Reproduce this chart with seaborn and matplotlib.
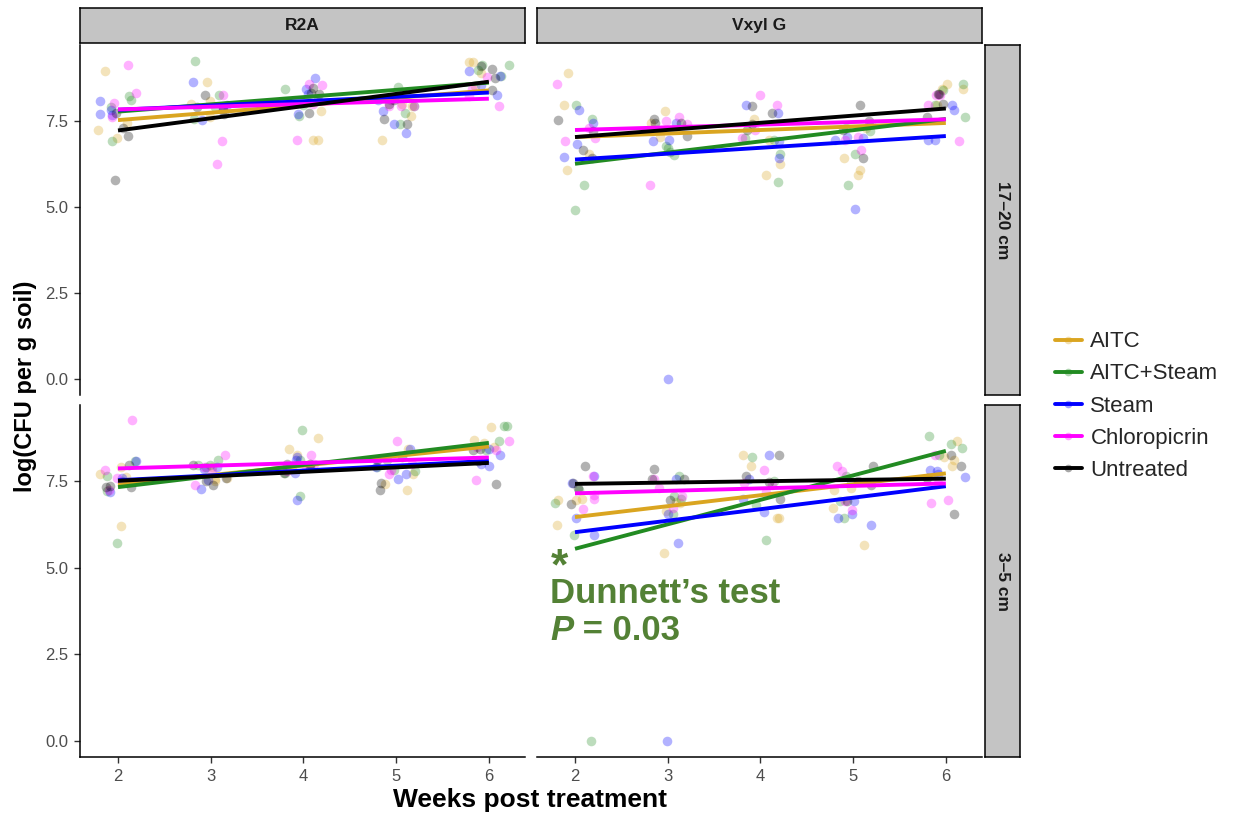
import numpy as np
import pandas as pd
import matplotlib
matplotlib.use("Agg")
import matplotlib.pyplot as plt
from matplotlib.lines import Line2D
from matplotlib.colors import to_rgba
import seaborn as sns

# ---- data -------------------------------------------------------------
weeks = [2, 3, 4, 5, 6]
treatments = ["AITC", "AITC+Steam", "Steam", "Chloropicrin", "Untreated"]
media = ["R2A", "Vxyl G"]
depths = ["17–20 cm", "3–5 cm"]
palette = ["#DAA520", "#228B22", "#0000FF", "#FF00FF", "#000000"]

# log(CFU per g soil), one list of replicates per sampling week (2..6)
r2a_17_20 = {
    "AITC": [[8.95, 7.23, 7.01, 7.45], [8.64, 8.06, 7.98, 7.60], [7.79, 6.95, 6.95, 8.05],
             [7.94, 7.64, 6.95, 8.00], [9.21, 9.21, 8.90, 8.50]],
    "AITC+Steam": [[8.22, 8.10, 6.90, 7.90], [9.24, 7.55, 8.26, 7.90], [8.42, 7.95, 7.63, 8.10],
                   [7.72, 7.42, 8.47, 7.94], [9.13, 9.13, 8.97, 8.80]],
    "Steam": [[8.06, 7.67, 7.71, 7.80], [8.64, 7.53, 7.90, 7.95], [8.74, 8.42, 8.28, 7.70],
              [7.79, 7.42, 7.14, 8.10], [8.95, 8.81, 8.53, 8.24]],
    "Chloropicrin": [[9.13, 8.32, 8.03, 7.60], [8.26, 6.90, 6.26, 7.90], [8.57, 8.55, 6.95, 8.00],
                     [7.94, 7.94, 7.94, 8.10], [8.76, 8.42, 8.21, 7.94]],
    "Untreated": [[7.72, 7.30, 7.06, 5.77], [8.26, 7.90, 7.80, 7.70], [8.44, 8.27, 7.72, 8.30],
                  [7.55, 7.42, 8.00, 8.10], [9.10, 8.99, 8.73, 8.40]],
}
vxyl_17_20 = {
    "AITC": [[8.90, 7.95, 6.53, 6.07], [7.79, 7.43, 7.03, 7.20], [7.55, 6.95, 6.24, 5.93],
             [6.42, 6.07, 5.93, 7.30], [8.57, 8.42, 8.42, 7.95]],
    "AITC+Steam": [[7.95, 7.55, 5.64, 4.92], [6.72, 6.51, 6.77, 6.60], [6.53, 5.71, 6.94, 7.00],
                   [6.55, 5.63, 7.20, 7.30], [8.57, 7.95, 8.40, 7.60]],
    "Steam": [[7.81, 7.43, 6.84, 6.45], [7.43, 6.94, 0.00, 6.90], [7.96, 7.72, 6.42, 6.90],
              [7.02, 6.94, 4.93, 7.00], [7.95, 6.94, 6.94, 7.80]],
    "Chloropicrin": [[8.57, 7.29, 7.00, 6.90], [5.64, 7.40, 7.60, 7.50], [8.26, 7.97, 7.24, 7.00],
                     [7.02, 6.94, 6.65, 7.40], [8.26, 8.26, 7.95, 6.90]],
    "Untreated": [[7.53, 7.19, 6.65, 6.42], [7.45, 7.45, 7.55, 7.07], [7.92, 7.72, 7.24, 7.40],
                  [7.95, 7.24, 6.42, 7.50], [8.27, 8.27, 7.60, 8.00]],
}
r2a_3_5 = {
    "AITC": [[7.71, 6.21, 7.63, 7.90], [7.57, 7.50, 7.60, 7.90], [8.74, 8.27, 8.43, 7.90],
             [8.43, 7.42, 7.26, 7.70], [9.06, 8.70, 8.50, 8.60]],
    "AITC+Steam": [[8.07, 7.66, 7.23, 5.73], [7.97, 7.97, 7.90, 8.10], [8.97, 7.73, 7.08, 8.10],
                   [7.81, 7.90, 8.10, 7.80], [9.09, 9.09, 8.66, 8.40]],
    "Steam": [[8.07, 7.18, 7.60, 7.50], [7.54, 7.28, 7.86, 7.90], [7.73, 6.96, 8.20, 8.10],
              [8.43, 7.57, 7.90, 7.70], [8.43, 8.26, 7.95, 8.00]],
    "Chloropicrin": [[9.26, 7.83, 7.25, 7.60], [8.26, 7.39, 7.90, 7.80], [8.26, 7.80, 8.00, 7.90],
                     [8.65, 7.83, 7.71, 8.00], [8.66, 7.54, 8.50, 8.40]],
    "Untreated": [[7.97, 7.32, 7.37, 7.34], [7.97, 7.50, 7.40, 7.60], [7.73, 8.00, 8.00, 7.90],
                  [7.44, 7.25, 8.10, 8.20], [8.43, 8.07, 7.42, 8.40]],
}
vxyl_3_5 = {
    "AITC": [[6.96, 6.96, 6.23, 7.00], [6.87, 6.65, 5.42, 6.90], [8.26, 7.95, 6.43, 6.43],
             [7.26, 6.74, 5.65, 7.30], [8.65, 7.95, 8.20, 8.10]],
    "AITC+Steam": [[7.26, 6.86, 5.94, 0.00], [7.66, 7.08, 6.55, 7.00], [8.19, 6.81, 5.80, 7.50],
                   [7.66, 6.94, 6.43, 7.50], [8.80, 8.56, 8.45, 8.26]],
    "Steam": [[7.66, 7.44, 6.43, 5.94], [7.57, 6.55, 5.73, 0.00], [8.26, 7.56, 6.98, 6.62],
              [6.94, 6.54, 6.43, 6.25], [7.83, 7.62, 7.70, 7.80]],
    "Chloropicrin": [[7.64, 7.00, 6.71, 7.10], [7.56, 7.06, 6.74, 7.30], [7.81, 7.46, 7.40, 7.20],
                     [7.95, 7.80, 6.94, 6.68], [8.26, 7.44, 6.96, 6.86]],
    "Untreated": [[7.95, 7.44, 6.84, 7.30], [7.85, 7.55, 7.57, 6.96], [8.26, 7.66, 7.47, 6.98],
                  [7.95, 6.94, 7.50, 7.40], [8.26, 7.95, 6.55, 7.60]],
}

panels = {(0, 0): r2a_17_20, (0, 1): vxyl_17_20,
          (1, 0): r2a_3_5, (1, 1): vxyl_3_5}

# ---- style ------------------------------------------------------------
sns.set_theme(style="white")
plt.rcParams["font.family"] = ["Liberation Sans", "DejaVu Sans"]
np.random.seed(11)

W, H = 1238, 814
fig = plt.figure(figsize=(W / 100, H / 100), dpi=100)


def fx(px):
    return px / W


def fy(py):
    return 1 - py / H


col_x = [(80, 525), (537, 982)]
row_y = [(45, 395), (405, 757)]
strip_fill = "#C4C4C4"
tick_grey = "#4D4D4D"

axes = {}
for r, (y0, y1) in enumerate(row_y):
    for c, (x0, x1) in enumerate(col_x):
        ax = fig.add_axes([fx(x0), fy(y1), fx(x1 - x0), (y1 - y0) / H])
        axes[(r, c)] = ax

for (r, c), ax in axes.items():
    table = panels[(r, c)]
    for i, (t, colr) in enumerate(zip(treatments, palette)):
        reps = table[t]
        df = pd.DataFrame({
            "week": [w for w, vals in zip(weeks, reps) for _ in vals],
            "logcfu": [v for vals in reps for v in vals],
        })
        sns.regplot(data=df, x="week", y="logcfu", ax=ax, x_jitter=0.22,
                    ci=None, truncate=True, color=colr,
                    scatter_kws=dict(s=48, alpha=0.3, linewidths=0, zorder=2),
                    line_kws=dict(lw=2.8, zorder=3 + i, solid_capstyle="butt"))
    ax.set_xlim(1.59, 6.39)
    ax.set_ylim(-0.46, 9.70)
    ax.set_xticks(weeks)
    ax.set_yticks([0, 2.5, 5.0, 7.5])
    ax.set_yticklabels(["0.0", "2.5", "5.0", "7.5"])
    ax.set_xlabel("")
    ax.set_ylabel("")
    ax.grid(False)
    for s in ax.spines.values():
        s.set_visible(False)
        s.set_color("black")
        s.set_linewidth(1.1)
    ax.tick_params(axis="both", which="both", length=0, labelsize=12,
                   labelcolor=tick_grey, color="#333333", width=1.0, pad=4.5)
    if c == 0:
        ax.spines["left"].set_visible(True)
        ax.tick_params(axis="y", length=4, left=True, labelleft=True)
    else:
        ax.tick_params(axis="y", labelleft=False)
    if r == 1:
        ax.spines["bottom"].set_visible(True)
        ax.tick_params(axis="x", length=4, bottom=True, labelbottom=True)
    else:
        ax.tick_params(axis="x", labelbottom=False)

# facet strips
for c, (x0, x1) in enumerate(col_x):
    sax = fig.add_axes([fx(x0), fy(43), fx(x1 - x0), 35 / H])
    sax.set_facecolor(strip_fill)
    sax.set_xticks([]); sax.set_yticks([])
    for s in sax.spines.values():
        s.set_color("black"); s.set_linewidth(1.1)
    sax.text(0.5, 0.5, media[c], ha="center", va="center", fontsize=12.5,
             fontweight="bold", color="#1A1A1A", transform=sax.transAxes)
for r, (y0, y1) in enumerate(row_y):
    sax = fig.add_axes([fx(985), fy(y1), fx(35), (y1 - y0) / H])
    sax.set_facecolor(strip_fill)
    sax.set_xticks([]); sax.set_yticks([])
    for s in sax.spines.values():
        s.set_color("black"); s.set_linewidth(1.1)
    sax.text(0.5, 0.5, depths[r], ha="center", va="center", fontsize=12.5,
             fontweight="bold", color="#1A1A1A", rotation=-90,
             transform=sax.transAxes)

# axis titles
fig.text(fx(530), fy(807), "Weeks post treatment", ha="center", va="baseline",
         fontsize=19, fontweight="bold", color="black")
fig.text(fx(26), fy(386), "log(CFU per g soil)", ha="center", va="center",
         rotation=90, fontsize=17, fontweight="bold", color="black")

# significance note for AITC+Steam in the shallow Vxyl G panel
note_green = "#538135"
ax_note = axes[(1, 1)]
ax_note.text(1.74, 4.66, "*", fontsize=32, fontweight="bold", color=note_green,
             ha="left", va="baseline", zorder=10)
ax_note.text(1.73, 3.98, "Dunnett’s test", fontsize=25, fontweight="bold",
             color=note_green, ha="left", va="baseline", zorder=10)
p_txt = ax_note.text(1.73, 2.91, "P", fontsize=25, fontweight="bold",
                     fontstyle="italic", color=note_green, ha="left",
                     va="baseline", zorder=10)
ax_note.annotate(" = 0.03", xy=(1, 0), xycoords=p_txt, fontsize=25,
                 fontweight="bold", color=note_green, ha="left", va="bottom",
                 zorder=10)

# legend
handles = [Line2D([0], [0], color=colr, lw=2.8, marker="o", markersize=5.5,
                  markerfacecolor=to_rgba(colr, 0.35), markeredgewidth=0)
           for colr in palette]
fig.legend(handles, treatments, loc="center left",
           bbox_to_anchor=(fx(1046), fy(406)), frameon=False, fontsize=16,
           handlelength=1.2, handletextpad=0.4, labelspacing=0.5,
           borderaxespad=0)

fig.savefig("out.png", dpi=100)
